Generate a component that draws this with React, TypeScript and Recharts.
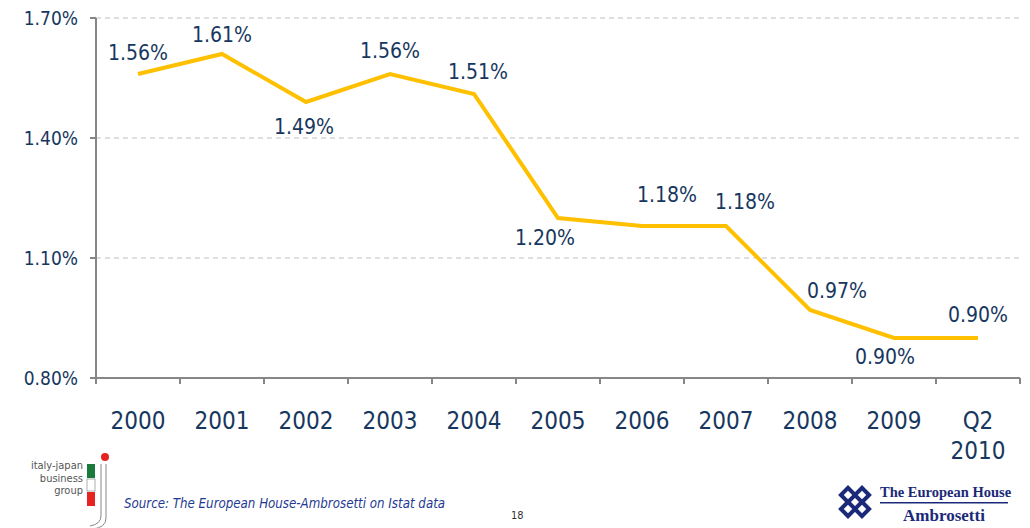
import React from 'react';
import { LineChart, Line, XAxis, YAxis, CartesianGrid, LabelList } from 'recharts';

const years = ['2000', '2001', '2002', '2003', '2004', '2005', '2006', '2007', '2008', '2009', 'Q2 2010'];
const rates = [1.56, 1.61, 1.49, 1.56, 1.51, 1.2, 1.18, 1.18, 0.97, 0.9, 0.9];
const yTicks = [0.8, 1.1, 1.4, 1.7];

// label placement relative to each point (dx, dy of the text centre)
const labelOffsets = [
  [0, -21], [0, -19], [-2, 25], [0, -23], [4, -22], [-13, 20],
  [25, -31], [19, -24], [27, -19], [-9, 19], [0, -23],
];

const data = years.map((y, i) => ({ year: y, value: rates[i] }));

const NAVY = '#17375E';
const AXIS = '#868686';
const FONT = '"DejaVu Sans Condensed", "DejaVu Sans", sans-serif';

const W = 1030;
const H = 528;
const Y_AXIS_W = 96;
const RIGHT = 10;
const band = (W - Y_AXIS_W - RIGHT) / years.length;

const XTick = (props: any) => {
  const { x, y, payload, index } = props;
  const parts = String(payload.value).split(' ');
  return (
    <g>
      <line x1={x - band / 2} x2={x - band / 2} y1={y} y2={y + 6} stroke={AXIS} strokeWidth={2} />
      {index === years.length - 1 && (
        <line x1={x + band / 2} x2={x + band / 2} y1={y} y2={y + 6} stroke={AXIS} strokeWidth={2} />
      )}
      <text x={x} y={y + 51} textAnchor="middle" fill={NAVY} fontSize={24} fontFamily={FONT}>
        {parts.map((p, i) => (
          <tspan key={i} x={x} dy={i === 0 ? 0 : 30}>{p}</tspan>
        ))}
      </text>
    </g>
  );
};

const renderLabel = (props: any) => {
  const { x, y, value, index } = props;
  const [dx, dy] = labelOffsets[index] || [0, -20];
  return (
    <text x={x + dx} y={y + dy} textAnchor="middle" dominantBaseline="central"
      fill={NAVY} fontSize={21} fontFamily={FONT}>
      {Number(value).toFixed(2)}%
    </text>
  );
};

const Footer = () => (
  <svg width={W} height={H} style={{ position: 'absolute', left: 0, top: 0, pointerEvents: 'none' }}>
    {/* italy-japan business group */}
    <g fontFamily="'DejaVu Sans Condensed', 'DejaVu Sans', sans-serif" fontSize={11} fill="#555" textAnchor="end">
      <text x={83} y={469}>italy-japan</text>
      <text x={83} y={481.5}>business</text>
      <text x={83} y={494}>group</text>
    </g>
    <rect x={87} y={464} width={8} height={14} fill="#1a7a3c" />
    <rect x={87} y={479} width={8} height={12} fill="#fff" stroke="#999" strokeWidth={0.8} />
    <rect x={87} y={492} width={8} height={14} fill="#e52421" />
    <circle cx={105} cy={457} r={4} fill="#e52421" />
    <path d="M101 464 V516 Q101 524 90 526 M106 464 V518 Q106 528 92 529" stroke="#888" strokeWidth={1} fill="none" />

    <text x={124} y={508} fontFamily={FONT} fontStyle="italic" fontSize={13.2} fill="#1F3A93">
      Source: The European House-Ambrosetti on Istat data
    </text>
    <text x={511} y={519} fontFamily={FONT} fontSize={11} fill="#333">18</text>

    {/* Ambrosetti logo */}
    <g fill="#1b2a78">
      {[[848, 495], [862, 495], [848, 509], [862, 509]].map(([cx, cy], i) => (
        <g key={i} transform={`translate(${cx} ${cy}) rotate(45)`}>
          <rect x={-7} y={-7} width={14} height={14} />
          <rect x={-3} y={-3} width={6} height={6} fill="#fff" />
        </g>
      ))}
      <text x={880} y={497} fontFamily="'Liberation Serif', 'DejaVu Serif', serif" fontWeight="bold" fontSize={14.5}>The European House</text>
      <rect x={880} y={502} width={128} height={1.5} />
      <text x={944} y={521} textAnchor="middle" fontFamily="'Liberation Serif', 'DejaVu Serif', serif" fontWeight="bold" fontSize={17}>Ambrosetti</text>
    </g>
  </svg>
);

export default function App() {
  return (
    <div style={{ position: 'absolute', left: 0, top: 0, width: W, height: H, background: '#fff' }}>
      <LineChart width={W} height={H} data={data} margin={{ top: 18, right: RIGHT, left: 0, bottom: 50 }}>
        <CartesianGrid vertical={false} stroke="#BFBFBF" strokeDasharray="5 4" />
        <XAxis dataKey="year" interval={0} tickSize={0} tickMargin={0} height={100}
          padding={{ left: band / 2, right: band / 2 }}
          tickLine={false} axisLine={{ stroke: AXIS, strokeWidth: 2 }} tick={<XTick />} />
        <YAxis width={Y_AXIS_W} domain={[0.8, 1.7]} ticks={yTicks} tickSize={6} tickMargin={12}
          tickFormatter={(v: number) => `${v.toFixed(2)}%`}
          tick={{ fill: NAVY, fontSize: 19, fontFamily: FONT }}
          tickLine={{ stroke: AXIS, strokeWidth: 2 }} axisLine={{ stroke: AXIS, strokeWidth: 2 }} />
        <Line type="linear" dataKey="value" stroke="#FFC000" strokeWidth={4} dot={false} isAnimationActive={false}>
          <LabelList dataKey="value" content={renderLabel} />
        </Line>
      </LineChart>
      <Footer />
    </div>
  );
}
